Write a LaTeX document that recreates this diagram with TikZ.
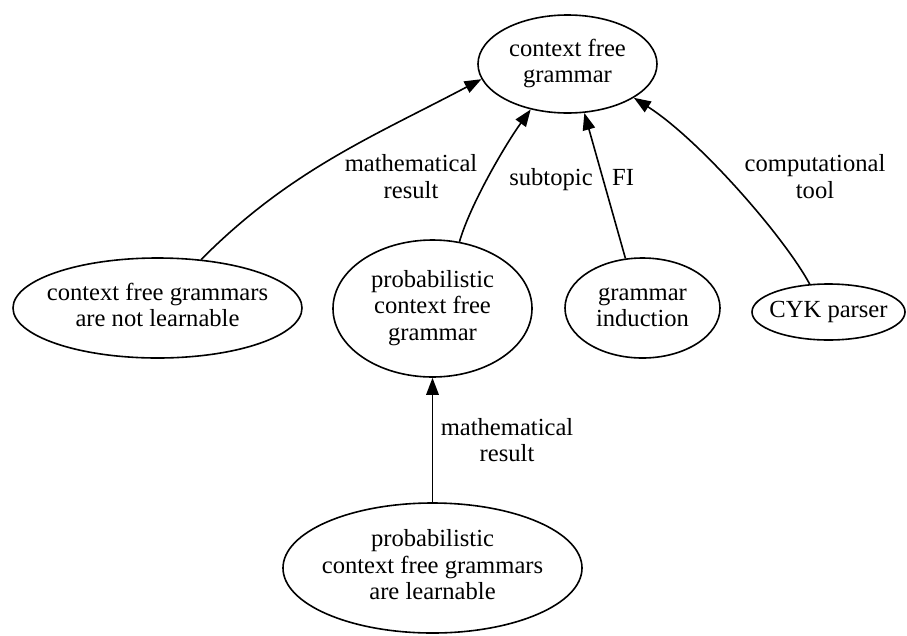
\documentclass[tikz,border=0pt]{standalone}
\usepackage{fontspec}
\setmainfont{Liberation Serif}
\usetikzlibrary{arrows.meta,shapes.geometric}

% centred lines of text; the zero-width box keeps the ellipse size fixed
\newcommand{\toptext}[1]{\makebox[0pt]{\raisebox{-3pt}{\begin{tabular}{@{}c@{}}#1\end{tabular}}}}
\newcommand{\reltext}[1]{\begin{tabular}{@{}c@{}}#1\end{tabular}}

\begin{document}
\begin{tikzpicture}[x=1pt,y=-1pt,
  every node/.style={font=\fontsize{24.6}{26.5}\selectfont},
  topic/.style={ellipse, draw, line width=1.6pt, inner sep=0pt},
  rel/.style={-{Triangle[length=17pt,width=12.5pt]}, line width=1.6pt},
  lbl/.style={inner sep=0pt}]
\useasboundingbox (0,0) rectangle (907,635);

% topics
\node[topic, minimum width=179pt, minimum height=98pt]  (cfg)   at (567.5,64)  {\toptext{context free\\grammar}};
\node[topic, minimum width=289pt, minimum height=100pt] (cfgnl) at (157.5,308) {\toptext{context free grammars\\are not learnable}};
\node[topic, minimum width=199pt, minimum height=137pt] (pcfg)  at (432.5,308.5) {\toptext{probabilistic\\context free\\grammar}};
\node[topic, minimum width=155pt, minimum height=100pt] (gi)    at (642.5,308) {\toptext{grammar\\induction}};
\node[topic, minimum width=153pt, minimum height=56pt]  (cyk)   at (828.5,312) {\toptext{CYK parser}};
\node[topic, minimum width=299pt, minimum height=130pt] (pcfgl) at (432.5,568) {\toptext{probabilistic\\context free grammars\\are learnable}};

% relations
\draw[rel] (cfgnl.48) .. controls (290,170) and (374,136) .. (cfg.190);
\draw[rel] (pcfg.68) .. controls (470,205) and (505,145) .. (cfg.231);
\draw[rel] (gi.109) -- (cfg.289);
\draw[rel] (cyk.124) .. controls (785,238) and (700,140) .. (cfg.333);
\draw[rel] (pcfgl) -- (pcfg);

% relation labels
\node[lbl] (l1) at (411,179.7) {\reltext{mathematical\\result}};
\node[lbl] (l2) at (551,179.7) {\reltext{subtopic}};
\node[lbl] (l3) at (623,179.7) {\reltext{FI}};
\node[lbl] (l4) at (815,179.7) {\reltext{computational\\tool}};
\node[lbl] (l5) at (507,443.2) {\reltext{mathematical\\result}};
\end{tikzpicture}
\end{document}
